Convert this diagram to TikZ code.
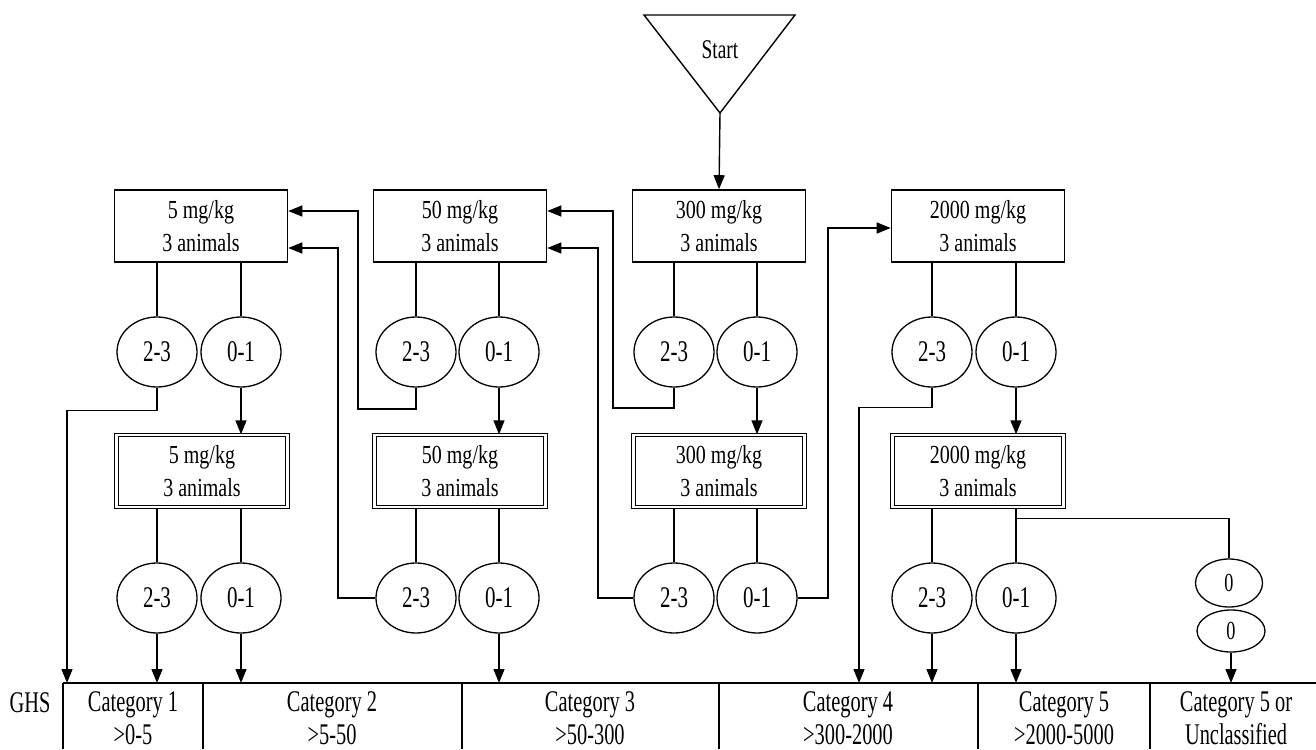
\documentclass[tikz,border=0pt]{standalone}
\usepackage{fontspec}
\setmainfont{Liberation Serif}[FakeStretch=0.72]
\newfontfamily\fntA{Liberation Serif}[FakeStretch=0.77]
\newfontfamily\fntB{Liberation Serif}[FakeStretch=0.68]
\newfontfamily\fntC{Liberation Serif}[FakeStretch=0.70]
\usetikzlibrary{arrows.meta,shapes.geometric}
\begin{document}
\begin{tikzpicture}[x=1pt,y=-1pt,
  ln/.style={line width=1.4pt},
  arr/.style={line width=1.4pt,-{Triangle[length=14pt,width=11pt]}},
  box/.style={draw,line width=1.6pt,minimum width=173pt,minimum height=72pt,inner sep=0pt,align=center,font=\fntA\fontsize{26}{33}\selectfont},
  dbox/.style={draw,double,double distance=2.2pt,line width=1.3pt,minimum width=171pt,minimum height=72pt,inner sep=0pt,align=center,font=\fntA\fontsize{26}{33}\selectfont},
  ell/.style={draw,ellipse,line width=1.3pt,minimum width=80pt,minimum height=70pt,inner sep=0pt,font=\fntC\fontsize{30}{30}\selectfont},
  zell/.style={draw,ellipse,line width=1.3pt,inner sep=0pt,font=\fntC\fontsize{26}{26}\selectfont},
  cat/.style={align=center,inner sep=0pt,font=\fntB\fontsize{30}{33}\selectfont}]
\useasboundingbox (0,0) rectangle (1316,749);

% start
\draw[line width=1.4pt] (644,15) -- (795,15) -- (720,113) -- cycle;
\node[font=\fontsize{27}{27}\selectfont] (starttxt) at (720,50) {Start};
\coordinate (start) at (720,113);

% row 1 boxes
\node[box] (b1) at (201,226) {5 mg/kg\\3 animals};
\node[box] (b2) at (460,226) {50 mg/kg\\3 animals};
\node[box] (b3) at (719,226) {300 mg/kg\\3 animals};
\node[box] (b4) at (978,226) {2000 mg/kg\\3 animals};

% row 1 ellipses
\node[ell] (e1a) at (157,352) {2-3};
\node[ell] (e1b) at (241,352) {0-1};
\node[ell] (e2a) at (416,352) {2-3};
\node[ell] (e2b) at (499,352) {0-1};
\node[ell] (e3a) at (674,352) {2-3};
\node[ell] (e3b) at (757,352) {0-1};
\node[ell] (e4a) at (932,352) {2-3};
\node[ell] (e4b) at (1016,352) {0-1};

% row 2 double boxes
\node[dbox] (g1) at (202,471) {5 mg/kg\\3 animals};
\node[dbox] (g2) at (460,471) {50 mg/kg\\3 animals};
\node[dbox] (g3) at (719,471) {300 mg/kg\\3 animals};
\node[dbox] (g4) at (978,471) {2000 mg/kg\\3 animals};

% row 2 ellipses
\node[ell] (f1a) at (157,598) {2-3};
\node[ell] (f1b) at (241,598) {0-1};
\node[ell] (f2a) at (416,598) {2-3};
\node[ell] (f2b) at (499,598) {0-1};
\node[ell] (f3a) at (674,598) {2-3};
\node[ell] (f3b) at (757,598) {0-1};
\node[ell] (f4a) at (932,598) {2-3};
\node[ell] (f4b) at (1016,598) {0-1};

% zero ellipses
\node[zell,minimum width=67pt,minimum height=48pt] (z1) at (1229,583) {0};
\node[zell,minimum width=68pt,minimum height=42pt] (z2) at (1231,631) {0};

% category bar
\coordinate (bar) at (0,683);
\draw[line width=2pt] (63,683) -- (1316,683);
\foreach \x in {63,203,462,719,978,1150} \draw[line width=1.4pt] (\x,683) -- (\x,749);
\node[font=\fntB\fontsize{30}{30}\selectfont] (ghs) at (30,703) {GHS};
\node[cat] (c1) at (133,718) {Category 1\\>0-5};
\node[cat] (c2) at (332,718) {Category 2\\>5-50};
\node[cat] (c3) at (590,718) {Category 3\\>50-300};
\node[cat] (c4) at (848,718) {Category 4\\>300-2000};
\node[cat] (c5) at (1064,718) {Category 5\\>2000-5000};
\node[cat] (c6) at (1236,718) {Category 5 or\\Unclassified};

% start arrow
\draw[arr] (start) -- (b3.north);

% box -> ellipse lines
\foreach \b/\a/\c in {b1/e1a/e1b,b2/e2a/e2b,b3/e3a/e3b,b4/e4a/e4b,g1/f1a/f1b,g2/f2a/f2b,g3/f3a/f3b,g4/f4a/f4b}{
  \draw[ln] (\a.north |- \b.south) -- (\a.north);
  \draw[ln] (\c.north |- \b.south) -- (\c.north);
}

% row 1 0-1 -> double boxes
\draw[arr] (e1b.south) -- (e1b.south |- g1.north);
\draw[arr] (e2b.south) -- (e2b.south |- g2.north);
\draw[arr] (e3b.south) -- (e3b.south |- g3.north);
\draw[arr] (e4b.south) -- (e4b.south |- g4.north);

% row 1 2-3 feedbacks
\draw[arr] (e1a.south) -- ++(0,23) -| (67,683);
\draw[arr] (e2a.south) |- (358,409) |- ([yshift=15pt]b1.east);
\draw[arr] (e3a.south) |- (613,408) |- ([yshift=15pt]b2.east);
\draw[arr] (e4a.south) -- ++(0,20) -| (859,683);

% row 2 feedbacks
\draw[arr] (f2a.west) -| (338,248) -- ([yshift=-22pt]b1.east);
\draw[arr] (f3a.west) -| (598,248) -- ([yshift=-22pt]b2.east);
\draw[arr] (f3b.east) -| (828,228) -- ([yshift=-2pt]b4.west);

% row 2 down arrows
\draw[arr] (f1a.south) -- (f1a.south |- bar);
\draw[arr] (f1b.south) -- (f1b.south |- bar);
\draw[arr] (f2b.south) -- (f2b.south |- bar);
\draw[arr] (f4a.south) -- (f4a.south |- bar);
\draw[arr] (f4b.south) -- (f4b.south |- bar);

% 2000 branch to zeros
\draw[ln] ([yshift=-11pt]g4.south -| f4b.north) -| (z1.north);
\draw[arr] (z2.south) -- (z2.south |- bar);
\end{tikzpicture}
\end{document}
